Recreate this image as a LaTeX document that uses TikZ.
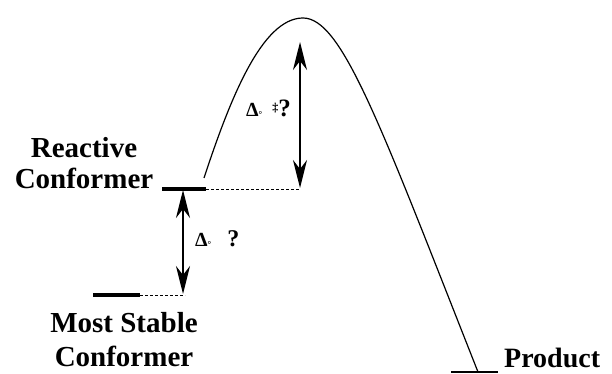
\documentclass[tikz,border=0pt]{standalone}
\usepackage{fontspec}
\setmainfont{Liberation Serif}
\usetikzlibrary{arrows.meta}
\begin{document}
\begin{tikzpicture}[x=1pt,y=1pt,
  level/.style={line width=4pt},
  guide/.style={dash pattern=on 3pt off 2pt,line width=0.8pt},
  tipstyle/.tip={Stealth[length=28pt,width=14pt,inset=9pt]},
  dbl/.style={line width=2pt,tipstyle-tipstyle},
  big/.style={font=\fontsize{29}{31}\selectfont\bfseries,align=center,inner sep=0pt},
  small/.style={font=\fontsize{20}{20}\selectfont\bfseries,inner sep=0pt}]
\useasboundingbox (0,0) rectangle (612,374);
% levels
\coordinate (r1) at (162,185); \coordinate (r2) at (206,185); \coordinate (r3) at (300,185);
\coordinate (m1) at (93,79); \coordinate (m2) at (140,79); \coordinate (m3) at (185,79);
\coordinate (p1) at (451,2); \coordinate (p2) at (498,2);
\coordinate (c0) at (204,196); \coordinate (ctop) at (303,356); \coordinate (c1) at (478,2);
\draw[level] (r1) -- (r2);
\draw[guide] (r2) -- (r3);
\draw[level] (m1) -- (m2);
\draw[guide] (m2) -- (m3);
\draw[line width=2pt] (p1) -- (p2);
% curve
\draw[line width=1.2pt] (c0) .. controls (230,275) and (262,356) .. (ctop)
  .. controls (342,356) and (380,250) .. (c1);
% arrows
\coordinate (a1) at (300,186); \coordinate (a2) at (300,332);
\coordinate (b1) at (183,184); \coordinate (b2) at (183,80);
\draw[dbl] (a1) -- (a2);
\draw[dbl] (b1) -- (b2);
% labels
\node[big] (rc) at (84,211) {Reactive\\Conformer};
\node[big,font=\fontsize{29}{34}\selectfont\bfseries] (ms) at (124,34) {Most Stable\\Conformer};
\node[big,font=\fontsize{28}{30}\selectfont\bfseries,anchor=base west] (pr) at (504,6) {Product};
\node[small,anchor=base west] (g1) at (246,257) {Δ\raisebox{-0.5pt}{\fontsize{9}{9}\selectfont°}\hspace{10pt}\raisebox{5pt}{\fontsize{12}{12}\selectfont‡}\fontsize{25}{25}\selectfont ?};
\node[small,anchor=base west] (g2) at (195,127) {Δ\raisebox{-0.5pt}{\fontsize{9}{9}\selectfont°}\hspace{16pt}\fontsize{24}{24}\selectfont ?};
\end{tikzpicture}
\end{document}
